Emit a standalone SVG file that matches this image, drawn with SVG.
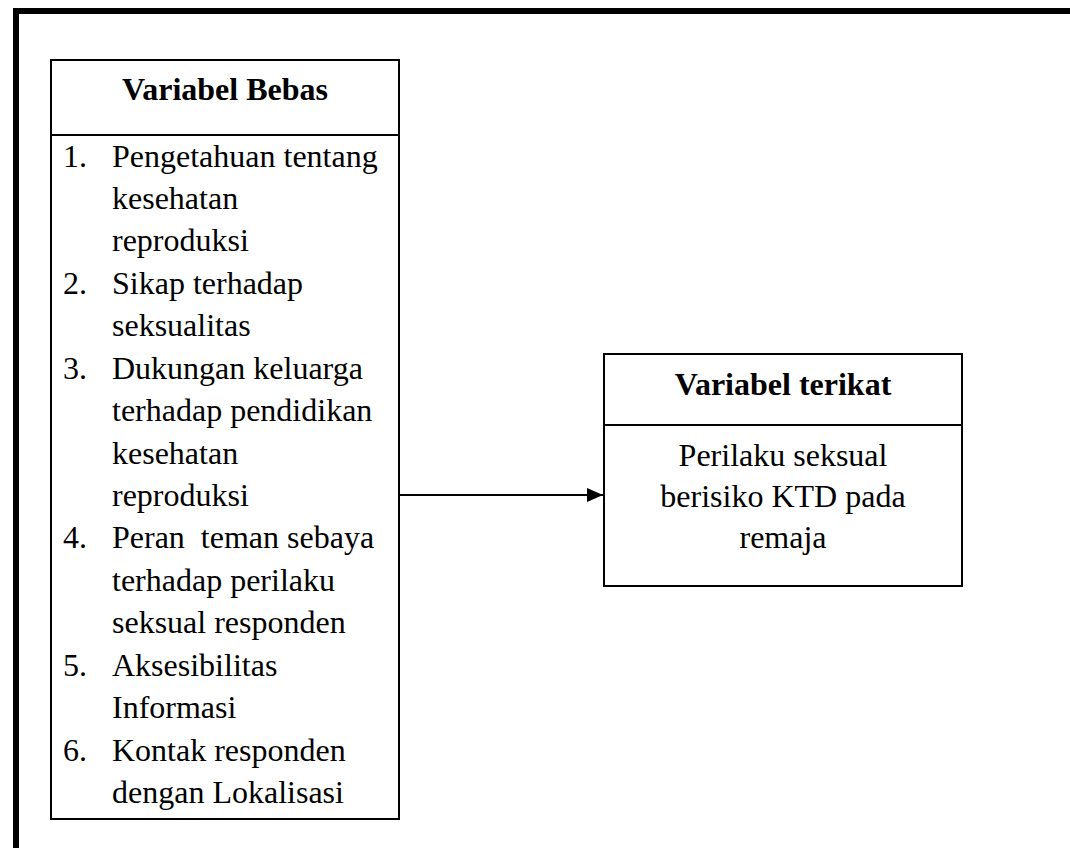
<svg xmlns="http://www.w3.org/2000/svg" width="1070" height="848" viewBox="0 0 1070 848">
<style>
.box{fill:#fff;stroke:#000;stroke-width:2}
.div{stroke:#000;stroke-width:2}
.t{font-family:"Liberation Serif","Times New Roman",serif;font-size:32px;fill:#000}
.b{font-weight:bold}
.c{text-anchor:middle}
</style>
<defs>
<marker id="ah" markerWidth="16" markerHeight="14" refX="16" refY="7" orient="auto" markerUnits="userSpaceOnUse">
<path d="M0,0 L16,7 L0,14 Z" fill="#000"/>
</marker>
</defs>
<rect width="1070" height="848" fill="#fff"/>
<g id="frame">
<rect x="13" y="8" width="1057" height="6" fill="#000"/>
<rect x="13" y="8" width="6" height="840" fill="#000"/>
</g>
<g id="variabel-bebas">
<rect class="box" x="51" y="60" width="348" height="759"/>
<line class="div" x1="51" y1="135" x2="399" y2="135"/>
<text class="t b c" x="225" y="100">Variabel Bebas</text>
<text class="t" x="63" y="166.5">1.</text><text class="t" x="112" y="166.5">Pengetahuan tentang</text>
<text class="t" x="112" y="208.9">kesehatan</text>
<text class="t" x="112" y="251.4">reproduksi</text>
<text class="t" x="63" y="293.8">2.</text><text class="t" x="112" y="293.8">Sikap terhadap</text>
<text class="t" x="112" y="336.2">seksualitas</text>
<text class="t" x="63" y="378.7">3.</text><text class="t" x="112" y="378.7">Dukungan keluarga</text>
<text class="t" x="112" y="421.1">terhadap pendidikan</text>
<text class="t" x="112" y="463.5">kesehatan</text>
<text class="t" x="112" y="505.9">reproduksi</text>
<text class="t" x="63" y="548.4">4.</text><text class="t" x="112" y="548.4" xml:space="preserve">Peran  teman sebaya</text>
<text class="t" x="112" y="590.8">terhadap perilaku</text>
<text class="t" x="112" y="633.2">seksual responden</text>
<text class="t" x="63" y="675.7">5.</text><text class="t" x="112" y="675.7">Aksesibilitas</text>
<text class="t" x="112" y="718.1">Informasi</text>
<text class="t" x="63" y="760.5">6.</text><text class="t" x="112" y="760.5">Kontak responden</text>
<text class="t" x="112" y="803">dengan Lokalisasi</text>
</g>
<g id="variabel-terikat">
<rect class="box" x="604" y="354" width="358" height="232"/>
<line class="div" x1="604" y1="425" x2="962" y2="425"/>
<text class="t b c" x="783" y="395">Variabel terikat</text>
<text class="t c" x="783" y="466">Perilaku seksual</text>
<text class="t c" x="783" y="507">berisiko KTD pada</text>
<text class="t c" x="783" y="548">remaja</text>
</g>
<g id="connectors">
<line x1="400" y1="495" x2="603" y2="495" stroke="#000" stroke-width="2" marker-end="url(#ah)"/>
</g>
</svg>
